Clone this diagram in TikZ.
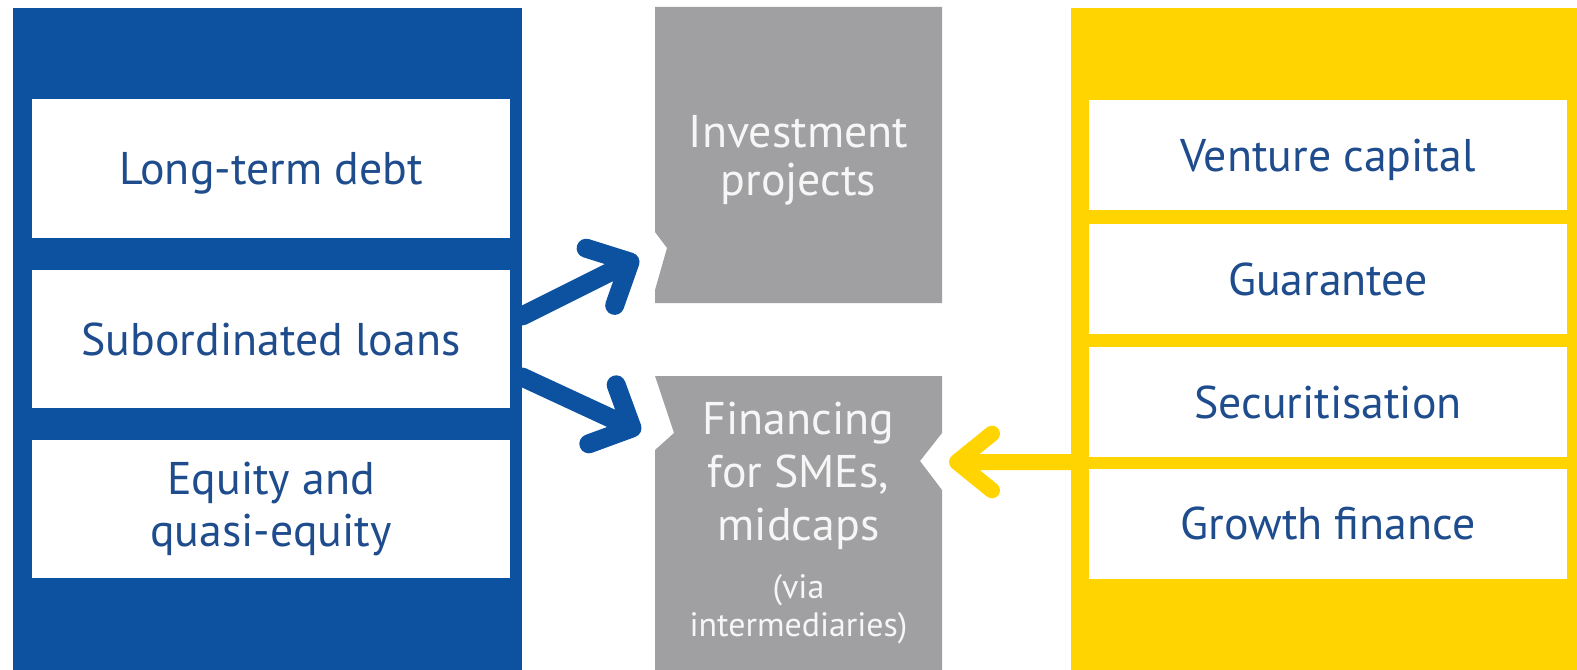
\documentclass[tikz,border=0pt]{standalone}
\usepackage{fontspec}
\setmainfont{PT Sans}
\usetikzlibrary{calc}

\definecolor{eibblue}{RGB}{12,82,160}
\definecolor{eibyellow}{RGB}{255,212,0}
\definecolor{itemblue}{RGB}{30,76,140}
\definecolor{boxgray}{RGB}{160,160,162}
\definecolor{graytext}{RGB}{246,246,246}

\newcommand{\smallnote}{\fontsize{34}{38}\selectfont}

\tikzset{
  panel/.style={rectangle, anchor=north west, inner sep=0pt},
  itembox/.style={rectangle, fill=white, inner sep=0pt, minimum width=478bp,
    text=itemblue, font=\fontsize{46}{53}\selectfont, align=center},
  oneline/.style={text height=32bp, text depth=0pt},
  targettext/.style={inner sep=0pt, text=graytext,
    font=\fontsize{46}{53}\selectfont, align=center},
  bluearrow/.style={draw=eibblue, line width=19bp, line cap=round, line join=round},
  yellowarrow/.style={draw=eibyellow, line width=16bp, line cap=round, line join=round}
}

\begin{document}
\begin{tikzpicture}[x=1bp, y=-1bp]
  \useasboundingbox[fill=white] (0,0) rectangle (1577,670);

  % the two panels
  \node (debt) [panel, fill=eibblue, minimum width=509bp, minimum height=662bp] at (13,8) {};
  \node (guar) [panel, fill=eibyellow, minimum width=506bp, minimum height=662bp] at (1071,8) {};

  % grey targets with their notches
  \fill[boxgray] (655,7) -- (942,7) -- (942,303) -- (655,303) -- (655,290) -- (667,248) -- (655,232) -- cycle;
  \fill[boxgray] (655,376) -- (942,376) -- (942,433) -- (920,461) -- (942,490) -- (942,670)
    -- (655,670) -- (655,450) -- (674,433) -- cycle;
  \node (inv) [targettext] at (798.5,160.5) {Investment\\[-5bp]projects};
  \node (fin) [targettext] at (798.5,523) {Financing\\for SMEs,\\midcaps\\[5bp]{\smallnote (via}\\[-15bp]{\smallnote intermediaries)}};

  % arrows
  \coordinate (subA) at (522,316);
  \coordinate (subB) at (522,377);
  \coordinate (invtip) at (630,262);
  \coordinate (fintip) at (632,428);
  \coordinate (secA) at (1082,462);
  \coordinate (fintipR) at (957,462);
  \draw[bluearrow] (subA) -- (invtip) ($(invtip)!46bp!44:(subA)$) -- (invtip) -- ($(invtip)!46bp!-44:(subA)$);
  \draw[bluearrow] (subB) -- (fintip) ($(fintip)!46bp!45:(subB)$) -- (fintip) -- ($(fintip)!46bp!-45:(subB)$);
  \draw[yellowarrow] (secA) -- (fintipR) ($(fintipR)!45bp!39:(secA)$) -- (fintipR) -- ($(fintipR)!45bp!-39:(secA)$);

  % white items
  \node (ltd) [itembox, oneline, minimum height=139bp] at (271,168.5) {Long-term debt};
  \node (sub) [itembox, oneline, minimum height=138bp] at (271,339) {Subordinated loans};
  \node (eq) [itembox, minimum height=138bp] at (271,509) {Equity and\\quasi-equity};
  \node (vc) [itembox, oneline, minimum height=110bp] at (1328,155) {Venture capital};
  \node (gu) [itembox, oneline, minimum height=110bp] at (1328,279) {Guarantee};
  \node (sec) [itembox, oneline, minimum height=110bp] at (1328,402) {Securitisation};
  \node (gro) [itembox, oneline, minimum height=110bp] at (1328,523.5) {Growth finance};
\end{tikzpicture}
\end{document}
